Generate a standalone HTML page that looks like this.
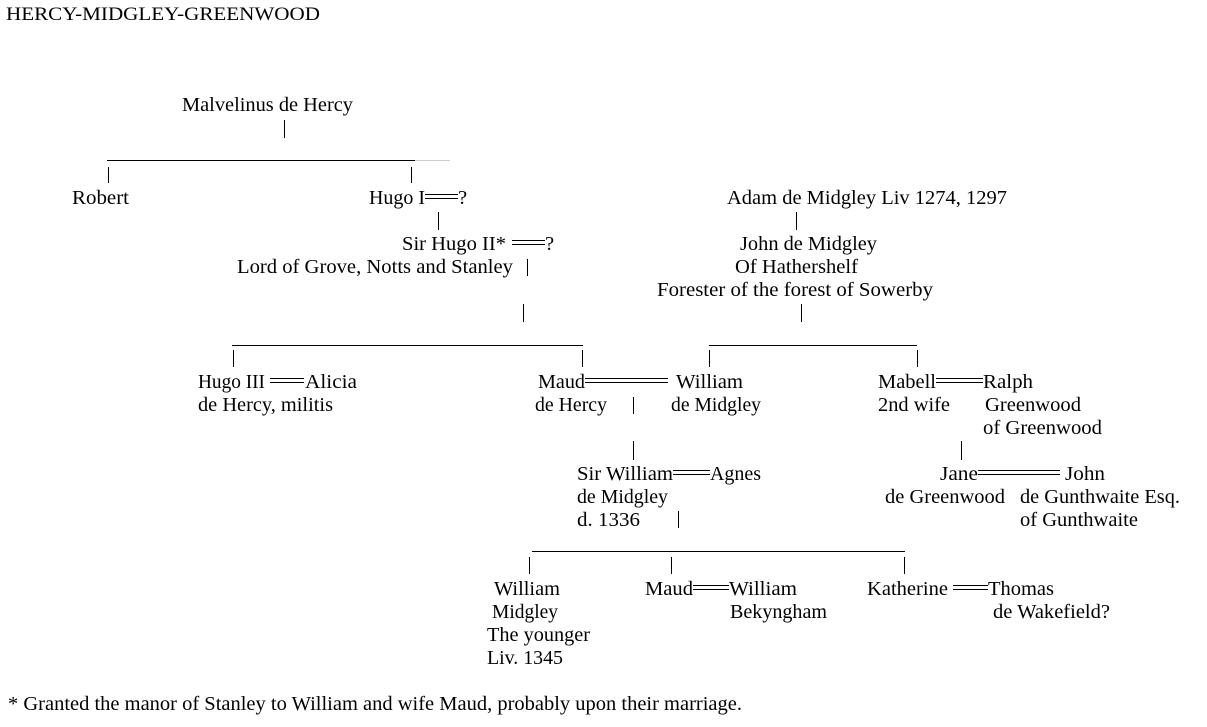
<!DOCTYPE html>
<html><head><meta charset="utf-8"><style>
html,body{margin:0;padding:0;background:#fff;width:1207px;height:727px;overflow:hidden}
svg text{font-family:"Liberation Serif",serif;font-size:20.5px;fill:#000}
</style></head><body>
<svg width="1207" height="727" viewBox="0 0 1207 727" xmlns="http://www.w3.org/2000/svg">
<g stroke="#000" stroke-width="1" fill="none">
<line x1="284.5" y1="120" x2="284.5" y2="138"/>
<line x1="107" y1="160.5" x2="415" y2="160.5"/>
<line x1="415" y1="160.5" x2="450" y2="160.5" stroke="#ccc"/>
<line x1="108.5" y1="167" x2="108.5" y2="183"/>
<line x1="411.5" y1="167" x2="411.5" y2="183"/>
<line x1="438.5" y1="212" x2="438.5" y2="230"/>
<line x1="527.5" y1="259" x2="527.5" y2="276"/>
<line x1="523.5" y1="304" x2="523.5" y2="322"/>
<line x1="232" y1="345.5" x2="583" y2="345.5"/>
<line x1="233.5" y1="350" x2="233.5" y2="367"/>
<line x1="582.5" y1="350" x2="582.5" y2="367"/>
<line x1="796.5" y1="212" x2="796.5" y2="230"/>
<line x1="801.5" y1="304" x2="801.5" y2="322"/>
<line x1="709" y1="345.5" x2="917" y2="345.5"/>
<line x1="709.5" y1="350" x2="709.5" y2="367"/>
<line x1="917.5" y1="350" x2="917.5" y2="367"/>
<line x1="633.5" y1="397" x2="633.5" y2="414"/>
<line x1="633.5" y1="441" x2="633.5" y2="460"/>
<line x1="961.5" y1="441" x2="961.5" y2="460"/>
<line x1="678.5" y1="511" x2="678.5" y2="528"/>
<line x1="532" y1="551.5" x2="905" y2="551.5"/>
<line x1="529.5" y1="557" x2="529.5" y2="574"/>
<line x1="671.5" y1="557" x2="671.5" y2="574"/>
<line x1="904.5" y1="557" x2="904.5" y2="574"/>
<line x1="425" y1="194.5" x2="458" y2="194.5"/><line x1="425" y1="198.5" x2="458" y2="198.5"/>
<line x1="512" y1="240.5" x2="545" y2="240.5"/><line x1="512" y1="244.5" x2="545" y2="244.5"/>
<line x1="270" y1="378.5" x2="304" y2="378.5"/><line x1="270" y1="382.5" x2="304" y2="382.5"/>
<line x1="585" y1="378.5" x2="668" y2="378.5"/><line x1="585" y1="382.5" x2="668" y2="382.5"/>
<line x1="936" y1="378.5" x2="983" y2="378.5"/><line x1="936" y1="382.5" x2="983" y2="382.5"/>
<line x1="673" y1="470.5" x2="710" y2="470.5"/><line x1="673" y1="474.5" x2="710" y2="474.5"/>
<line x1="978" y1="470.5" x2="1060" y2="470.5"/><line x1="978" y1="474.5" x2="1060" y2="474.5"/>
<line x1="693" y1="585.5" x2="729" y2="585.5"/><line x1="693" y1="589.5" x2="729" y2="589.5"/>
<line x1="953" y1="585.5" x2="988" y2="585.5"/><line x1="953" y1="589.5" x2="988" y2="589.5"/>
</g>
<text x="6" y="20" textLength="314" lengthAdjust="spacingAndGlyphs" style="font-size:19px">HERCY-MIDGLEY-GREENWOOD</text>
<text x="182" y="111" textLength="171" lengthAdjust="spacingAndGlyphs">Malvelinus de Hercy</text>
<text x="72" y="204" textLength="57" lengthAdjust="spacingAndGlyphs">Robert</text>
<text x="369" y="204" textLength="56" lengthAdjust="spacingAndGlyphs">Hugo I</text>
<text x="458" y="204">?</text>
<text x="402" y="250" textLength="104" lengthAdjust="spacingAndGlyphs">Sir Hugo II*</text>
<text x="545" y="250">?</text>
<text x="237" y="273" textLength="276" lengthAdjust="spacingAndGlyphs">Lord of Grove, Notts and Stanley</text>
<text x="727" y="204" textLength="280" lengthAdjust="spacingAndGlyphs">Adam de Midgley Liv 1274, 1297</text>
<text x="740" y="250" textLength="137" lengthAdjust="spacingAndGlyphs">John de Midgley</text>
<text x="735" y="273" textLength="123" lengthAdjust="spacingAndGlyphs">Of Hathershelf</text>
<text x="657" y="296" textLength="276" lengthAdjust="spacingAndGlyphs">Forester of the forest of Sowerby</text>
<text x="198" y="388" textLength="67" lengthAdjust="spacingAndGlyphs">Hugo III</text>
<text x="305" y="388" textLength="52" lengthAdjust="spacingAndGlyphs">Alicia</text>
<text x="198" y="411" textLength="135" lengthAdjust="spacingAndGlyphs">de Hercy, militis</text>
<text x="538" y="388" textLength="47" lengthAdjust="spacingAndGlyphs">Maud</text>
<text x="535" y="411" textLength="72" lengthAdjust="spacingAndGlyphs">de Hercy</text>
<text x="676" y="388" textLength="67" lengthAdjust="spacingAndGlyphs">William</text>
<text x="671" y="411" textLength="90" lengthAdjust="spacingAndGlyphs">de Midgley</text>
<text x="878" y="388" textLength="58" lengthAdjust="spacingAndGlyphs">Mabell</text>
<text x="983" y="388" textLength="50" lengthAdjust="spacingAndGlyphs">Ralph</text>
<text x="878" y="411" textLength="72" lengthAdjust="spacingAndGlyphs">2nd wife</text>
<text x="985" y="411" textLength="96" lengthAdjust="spacingAndGlyphs">Greenwood</text>
<text x="983" y="434" textLength="119" lengthAdjust="spacingAndGlyphs">of Greenwood</text>
<text x="577" y="480" textLength="96" lengthAdjust="spacingAndGlyphs">Sir William</text>
<text x="710" y="480" textLength="51" lengthAdjust="spacingAndGlyphs">Agnes</text>
<text x="577" y="503" textLength="91" lengthAdjust="spacingAndGlyphs">de Midgley</text>
<text x="577" y="526" textLength="63" lengthAdjust="spacingAndGlyphs">d. 1336</text>
<text x="940" y="480" textLength="38" lengthAdjust="spacingAndGlyphs">Jane</text>
<text x="1065" y="480" textLength="40" lengthAdjust="spacingAndGlyphs">John</text>
<text x="885" y="503" textLength="120" lengthAdjust="spacingAndGlyphs">de Greenwood</text>
<text x="1020" y="503" textLength="160" lengthAdjust="spacingAndGlyphs">de Gunthwaite Esq.</text>
<text x="1020" y="526" textLength="118" lengthAdjust="spacingAndGlyphs">of Gunthwaite</text>
<text x="494" y="595" textLength="66" lengthAdjust="spacingAndGlyphs">William</text>
<text x="492" y="618" textLength="66" lengthAdjust="spacingAndGlyphs">Midgley</text>
<text x="487" y="641" textLength="103" lengthAdjust="spacingAndGlyphs">The younger</text>
<text x="487" y="664" textLength="76" lengthAdjust="spacingAndGlyphs">Liv. 1345</text>
<text x="645" y="595" textLength="48" lengthAdjust="spacingAndGlyphs">Maud</text>
<text x="729" y="595" textLength="68" lengthAdjust="spacingAndGlyphs">William</text>
<text x="730" y="618" textLength="97" lengthAdjust="spacingAndGlyphs">Bekyngham</text>
<text x="867" y="595" textLength="81" lengthAdjust="spacingAndGlyphs">Katherine</text>
<text x="988" y="595" textLength="66" lengthAdjust="spacingAndGlyphs">Thomas</text>
<text x="993" y="618" textLength="117" lengthAdjust="spacingAndGlyphs">de Wakefield?</text>
<text x="8" y="710" textLength="734" lengthAdjust="spacingAndGlyphs">* Granted the manor of Stanley to William and wife Maud, probably upon their marriage.</text>
</svg>
</body></html>
